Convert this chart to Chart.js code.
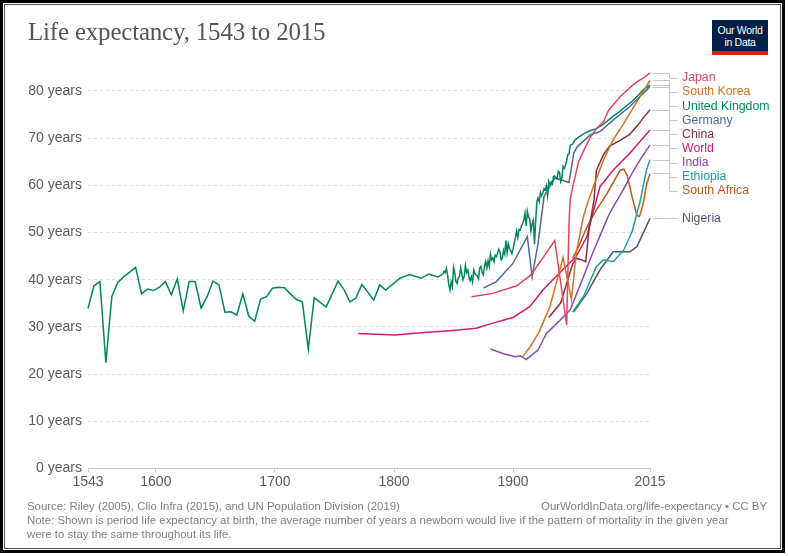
<!DOCTYPE html>
<html lang="en">
<head>
<meta charset="UTF-8">
<title>Life expectancy, 1543 to 2015</title>
<script src="https://cdn.jsdelivr.net/npm/chart.js"></script>
<style>
  body { margin: 0; background: #fff; font-family: 'Liberation Sans', Arial, sans-serif; }
  .frame { position: absolute; left: 0; top: 0; width: 785px; height: 553px; box-sizing: border-box;
           border: 3px solid #000; box-shadow: inset 0 0 0 1px #fff, inset 0 0 0 2px #555; }
  #chart { position: absolute; left: 0; top: 0; }
  h1 { position: absolute; left: 28px; top: 18px; margin: 0; font-family: 'Liberation Serif', serif;
       font-weight: normal; font-size: 25px; color: #555; letter-spacing: -0.2px; }
  .logo { position: absolute; left: 712px; top: 20px; width: 56px; height: 35px; background: #002147;
          border-bottom: 4px solid #ce261e; box-sizing: border-box; color: #fff; font-size: 10.5px;
          line-height: 12px; text-align: center; padding-top: 4px; letter-spacing: -0.3px; }
  .foot { position: absolute; font-size: 11.4px; color: #808080; line-height: 13.5px; }
</style>
</head>
<body>
<canvas id="chart" width="788" height="556"></canvas>
<h1>Life expectancy, 1543 to 2015</h1>
<div class="logo">Our World<br>in Data</div>
<div class="foot" style="left:27px; top:500px;">Source: Riley (2005), Clio Infra (2015), and UN Population Division (2019)</div>
<div class="foot" style="right:21px; top:500px;">OurWorldInData.org/life-expectancy • CC BY</div>
<div class="foot" style="left:27px; top:514px; width:745px;">Note: Shown is period life expectancy at birth, the average number of years a newborn would live if the pattern of mortality in the given year<br>were to stay the same throughout its life.</div>
<div class="frame"></div>
<script>
// axis ticks
const xTicks = [1543, 1600, 1700, 1800, 1900, 2015];
const yTicks = [0, 10, 20, 30, 40, 50, 60, 70, 80];

// United Kingdom (England before 1841)
const ukYears = [1543, 1548, 1553, 1558, 1563, 1568, 1573, 1578, 1583, 1588, 1593, 1598, 1603, 1608, 1613, 1618,
  1623, 1628, 1633, 1638, 1643, 1648, 1653, 1658, 1663, 1668, 1673, 1678, 1683, 1688, 1693, 1698, 1703, 1708,
  1713, 1718, 1723, 1728, 1733, 1743, 1753, 1758, 1763, 1768, 1773, 1783, 1788, 1793, 1805, 1813, 1823, 1829,
  1837, 1841, 1842, 1843, 1844, 1845, 1846, 1847, 1848, 1849, 1850, 1851, 1852, 1853, 1854, 1855, 1856, 1857,
  1858, 1859, 1860, 1861, 1862, 1863, 1864, 1865, 1866, 1867, 1868, 1869, 1870, 1871, 1872, 1873, 1874, 1875,
  1876, 1877, 1878, 1879, 1880, 1881, 1882, 1883, 1884, 1885, 1886, 1887, 1888, 1889, 1890, 1891, 1892, 1893,
  1894, 1895, 1896, 1897, 1898, 1899, 1900, 1901, 1902, 1903, 1904, 1905, 1906, 1907, 1908, 1909, 1910, 1911,
  1912, 1913, 1914, 1915, 1916, 1917, 1918, 1919, 1920, 1921, 1922, 1923, 1924, 1925, 1926, 1927, 1928, 1929,
  1930, 1931, 1932, 1933, 1934, 1935, 1936, 1937, 1938, 1939, 1940, 1941, 1942, 1943, 1944, 1945, 1946, 1947,
  1948, 1950, 1952, 1955, 1960, 1965, 1970, 1975, 1980, 1985, 1990, 1995, 2000, 2005, 2010, 2015];
const ukValues = [33.9, 38.7, 39.6, 22.4, 36.4, 39.4, 40.6, 41.6, 42.6, 37.0, 38.0, 37.7, 38.4, 39.6, 36.8, 40.2,
  33.4, 39.6, 39.6, 34.0, 36.4, 39.7, 38.9, 33.1, 33.2, 32.5, 37.0, 32.3, 31.2, 35.9, 36.4, 38.2, 38.4, 38.3,
  37.0, 35.8, 35.3, 25.3, 36.2, 34.2, 39.7, 37.9, 35.3, 36.1, 39.0, 35.7, 38.9, 37.8, 40.3, 41.1, 40.3, 41.2,
  40.6, 41.2, 41.8, 41.5, 42.4, 41.0, 39.0, 37.8, 39.5, 38.5, 42.6, 41.5, 39.6, 39.2, 40.4, 40.7, 42.5, 41.2,
  40.0, 40.8, 43.0, 41.5, 42.0, 40.5, 39.8, 40.6, 39.5, 42.1, 41.3, 41.0, 40.8, 40.2, 42.5, 42.8, 41.5, 41.0,
  43.0, 43.9, 42.5, 44.0, 42.8, 45.4, 44.2, 44.6, 43.8, 45.2, 44.9, 45.6, 46.4, 45.8, 44.2, 44.5, 46.2, 45.4,
  48.3, 45.7, 47.6, 46.6, 46.1, 45.5, 46.5, 47.8, 48.9, 50.3, 48.9, 50.6, 50.5, 51.4, 51.9, 52.6, 54.1, 51.4,
  54.5, 53.3, 52.9, 50.3, 51.8, 52.6, 47.5, 52.5, 56.6, 57.3, 56.5, 58.5, 57.8, 58.3, 59.3, 59.0, 59.9, 57.8,
  60.8, 60.1, 60.7, 60.3, 61.9, 62.0, 61.5, 61.5, 63.0, 62.8, 60.8, 61.5, 64.0, 63.6, 64.2, 65.2, 66.5, 66.6,
  68.5, 68.7, 69.6, 70.2, 71.0, 71.6, 72.0, 72.8, 73.8, 74.8, 75.7, 76.8, 77.8, 79.0, 80.4, 81.2];

const japanYears = [1865, 1883, 1903, 1915, 1922, 1935, 1945, 1947, 1948, 1950, 1955, 1960, 1965, 1970, 1976,
  1980, 1984, 1990, 1993, 2000, 2004, 2010, 2015];
const japanValues = [36.4, 37.1, 38.7, 41.0, 43.5, 48.3, 30.4, 52.0, 57.0, 59.5, 65.0, 67.7, 70.2, 72.0, 73.5,
  75.8, 77.0, 78.8, 79.5, 81.1, 81.9, 82.8, 83.8];

const koreaYears = [1908, 1915, 1922, 1931, 1942, 1949, 1953, 1959, 1962, 1967, 1976, 1984, 1993, 2004, 2015];
const koreaValues = [23.7, 26.0, 29.0, 34.3, 44.7, 35.8, 45.6, 53.3, 55.8, 59.4, 65.4, 69.6, 73.1, 77.7, 82.2];

const germanyYears = [1875, 1886, 1900, 1912, 1916, 1921, 1926, 1935, 1941, 1947, 1951, 1954, 1965, 1973,
  1984, 1998, 2015];
const germanyValues = [38.2, 39.6, 43.5, 49.1, 40.6, 47.7, 57.6, 61.5, 61.1, 60.6, 66.8, 68.2, 70.7, 71.4,
  73.8, 76.7, 80.9];

const chinaYears = [1930, 1940, 1950, 1953, 1957, 1961, 1964, 1968, 1970, 1976, 1981, 1990, 1998, 2005, 2010, 2015];
const chinaValues = [32.0, 35.1, 43.3, 44.5, 44.3, 43.8, 51.2, 56.9, 63.2, 66.5, 68.3, 69.5, 70.8, 72.8, 74.5, 76.0];

const worldYears = [1770, 1801, 1820, 1847, 1869, 1883, 1900, 1914, 1925, 1939, 1953, 1962, 1967, 1973, 1984,
  1998, 2015];
const worldValues = [28.6, 28.3, 28.7, 29.2, 29.7, 30.8, 32.0, 34.3, 37.8, 41.4, 44.9, 49.1, 54.1, 59.7, 63.2,
  66.8, 71.7];

const indiaYears = [1881, 1892, 1902, 1906, 1911, 1921, 1928, 1937, 1948, 1959, 1965, 1970, 1975, 1980, 1985,
  1990, 1995, 2000, 2005, 2010, 2015];
const indiaValues = [25.3, 24.3, 23.7, 23.9, 23.1, 25.1, 28.6, 30.8, 33.6, 40.5, 44.5, 47.5, 50.5, 53.5, 55.8,
  57.9, 60.2, 62.6, 64.7, 66.7, 68.5];

const ethiopiaYears = [1950, 1959, 1970, 1976, 1984, 1993, 2000, 2007, 2012, 2015];
const ethiopiaValues = [33.1, 36.4, 42.8, 44.2, 43.8, 46.3, 50.2, 56.9, 63.2, 65.4];

const southAfricaYears = [1950, 1955, 1960, 1965, 1970, 1975, 1979, 1985, 1990, 1993, 1996, 2000, 2004, 2006,
  2008, 2010, 2012, 2015];
const southAfricaValues = [44.5, 47.0, 50.0, 52.6, 54.8, 56.7, 58.3, 61.0, 63.2, 63.4, 62.0, 57.5, 53.6, 53.4,
  54.8, 57.0, 60.0, 62.5];

const nigeriaYears = [1951, 1962, 1973, 1984, 1998, 2004, 2015];
const nigeriaValues = [33.2, 37.1, 42.1, 45.9, 45.9, 47.0, 53.0];

const series = [
  { label: 'Japan', color: '#e0475d', years: japanYears, values: japanValues },
  { label: 'South Korea', color: '#d8701f', years: koreaYears, values: koreaValues },
  { label: 'United Kingdom', color: '#00875e', years: ukYears, values: ukValues },
  { label: 'Germany', color: '#4c6a9c', years: germanyYears, values: germanyValues },
  { label: 'China', color: '#883039', years: chinaYears, values: chinaValues },
  { label: 'World', color: '#d41a70', years: worldYears, values: worldValues },
  { label: 'India', color: '#8a4cb0', years: indiaYears, values: indiaValues },
  { label: 'Ethiopia', color: '#18a1a2', years: ethiopiaYears, values: ethiopiaValues },
  { label: 'South Africa', color: '#be5915', years: southAfricaYears, values: southAfricaValues },
  { label: 'Nigeria', color: '#4e5a6b', years: nigeriaYears, values: nigeriaValues }
];

// line-end labels with elbow connectors, stacked so they don't overlap
const endLabels = {
  id: 'endLabels',
  afterDatasetsDraw(chart) {
    const ctx = chart.ctx;
    const area = chart.chartArea;
    const gap = 14.1;
    let prev = -Infinity;
    const items = chart.data.datasets.map((ds, i) => {
      const meta = chart.getDatasetMeta(i);
      const pt = meta.data[meta.data.length - 1];
      return { ds, xEnd: pt.x, yEnd: pt.y };
    }).sort((a, b) => a.yEnd - b.yEnd);
    items.forEach(it => {
      it.yLab = Math.max(it.yEnd, prev + gap, area.top + 6);
      prev = it.yLab;
    });
    ctx.save();
    ctx.font = '12.3px "Liberation Sans", Arial, sans-serif';
    ctx.textBaseline = 'middle';
    items.forEach(it => {
      const xMid = area.right + 19;
      ctx.strokeStyle = '#c8c8c8';
      ctx.lineWidth = 1;
      ctx.beginPath();
      ctx.moveTo(it.xEnd + 3, Math.round(it.yEnd) + 0.5);
      ctx.lineTo(xMid + 0.5, Math.round(it.yEnd) + 0.5);
      ctx.lineTo(xMid + 0.5, Math.round(it.yLab) + 0.5);
      ctx.lineTo(area.right + 28, Math.round(it.yLab) + 0.5);
      ctx.stroke();
      ctx.fillStyle = it.ds.borderColor;
      ctx.fillText(it.ds.label, area.right + 32, it.yLab);
    });
    ctx.restore();
  }
};

new Chart(document.getElementById('chart'), {
  type: 'line',
  data: {
    datasets: series.map(s => ({
      label: s.label,
      data: s.years.map((y, i) => ({ x: y, y: s.values[i] })),
      borderColor: s.color,
      backgroundColor: s.color,
      borderWidth: 1.5,
      pointRadius: 0,
      tension: 0,
      clip: false
    }))
  },
  options: {
    responsive: false,
    animation: false,
    layout: { padding: { top: 72, right: 138, left: 0, bottom: 0 } },
    plugins: { legend: { display: false }, tooltip: { enabled: false } },
    scales: {
      x: {
        type: 'linear',
        min: 1543,
        max: 2015,
        afterBuildTicks: s => { s.ticks = xTicks.map(v => ({ value: v })); },
        afterFit: s => { s.height = 87.5; },
        ticks: {
          color: '#5b5b5b',
          font: { size: 14, family: '"Liberation Sans", Arial, sans-serif' },
          padding: 1,
          maxRotation: 0,
          autoSkip: false,
          callback: v => String(v)
        },
        grid: { drawOnChartArea: false, drawTicks: true, tickLength: 4, color: '#cccccc' },
        border: { display: true, color: '#cccccc' }
      },
      y: {
        min: 0,
        max: 84,
        afterBuildTicks: s => { s.ticks = yTicks.map(v => ({ value: v })); },
        afterFit: s => { s.width = 88; },
        ticks: {
          color: '#5b5b5b',
          font: { size: 14, family: '"Liberation Sans", Arial, sans-serif' },
          padding: 6,
          callback: v => v + ' years'
        },
        grid: { color: '#dddddd', drawTicks: false },
        border: { display: false, dash: [3, 3] }
      }
    }
  },
  plugins: [endLabels]
});
</script>
</body>
</html>
